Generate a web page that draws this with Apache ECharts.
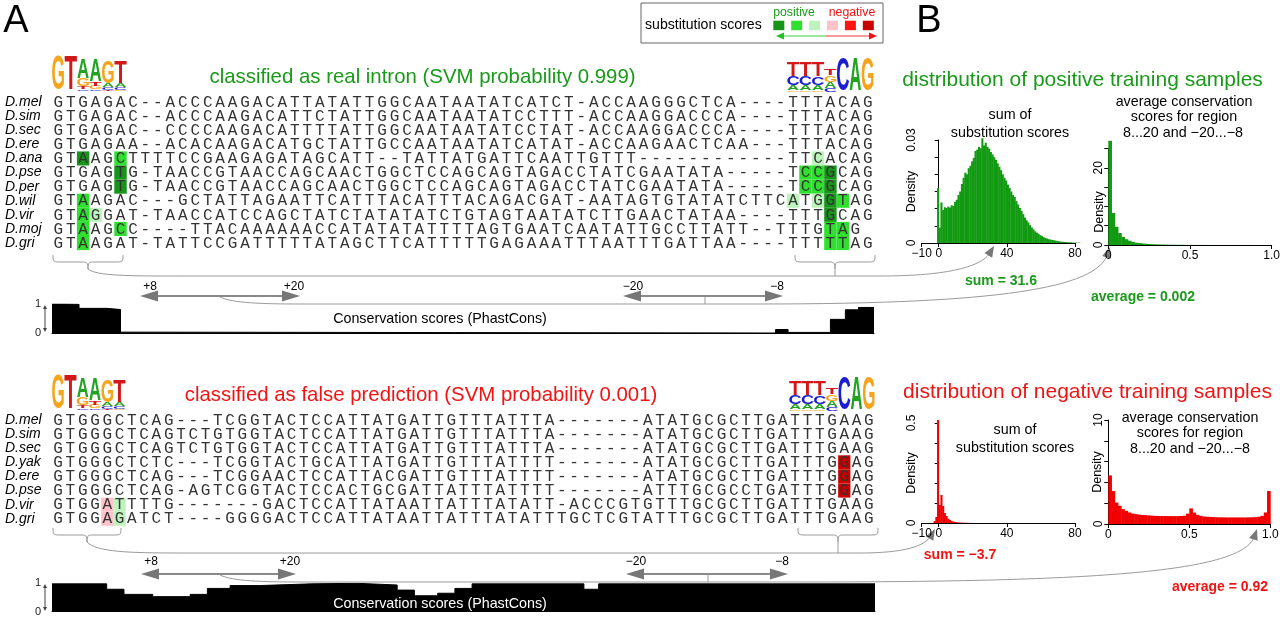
<!DOCTYPE html>
<html>
<head>
<meta charset="utf-8">
<script src="https://cdn.jsdelivr.net/npm/echarts@6/dist/echarts.min.js"></script>
<style>
  html, body { margin: 0; padding: 0; background: #fff; }
  #main { width: 1280px; height: 620px; }
</style>
</head>
<body>
<div id="main"></div>
<script>
// ---- alignment data ----
const posSpecies = ['D.mel', 'D.sim', 'D.sec', 'D.ere', 'D.ana', 'D.pse', 'D.per', 'D.wil', 'D.vir', 'D.moj', 'D.gri'];
const posSeqs = [
  'GTGAGAC--ACCCAAGACATTATATTGGCAATAATATCATCT-ACCAAGGGCTCA----TTTACAG',
  'GTGAGAC--ACCCAAGACATTCTATTGGCAATAATATCCTTT-ACCAAGGACCCA----TTTACAG',
  'GTGAGAC--CCCCAAGACATTTTATTGGCAATAATATCCTAT-ACCAAGGACCCA----TTTACAG',
  'GTGAGAA--ACACAAGACATGCTATTGCCAATAATATCATAT-ACCAAGAACTCAA---TTTACAG',
  'GTAAGCTTTTCCGAAGAGATAGCATT--TATTATGATTCAATTGTTT------------TTCACAG',
  'GTGAGTG-TAACCGTAACCAGCAACTGGCTCCAGCAGTAGACCTATCGAATATA-----TCCGCAG',
  'GTGAGTG-TAACCGTAACCAGCAACTGGCTCCAGCAGTAGACCTATCGAATATA-----TCCGCAG',
  'GTAAGAC---GCTATTAGAATTCATTTACATTTACAGACGAT-AATAGTGTATATCTTCATGGTAG',
  'GTAGGAT-TAACCATCCAGCTATCTATATATCTGTAGTAATATCTTGAACTATAA----TTTGCAG',
  'GTAAGCC----TTACAAAAAACCATATATATTTTAGTGAATCAATATTGCCTTATT--TTTGTAG',
  'GTAAGAT-TATTCCGATTTTTATAGCTTCATTTTTGAGAAATTTAATTTGATTAA----TTTTTAG'
];
// [row, column, substitution score]
const posMarks = [
  [4, 2, 3], [4, 5, 2], [5, 5, 3], [6, 5, 3], [7, 2, 2], [8, 2, 2], [8, 3, 1], [9, 2, 2], [9, 5, 2], [10, 2, 2],
  [4, 61, 1], [5, 60, 2], [5, 61, 2], [5, 62, 3], [6, 60, 2], [6, 61, 2], [6, 62, 3],
  [7, 59, 1], [7, 61, 1], [7, 62, 3], [7, 63, 2], [8, 62, 3], [9, 62, 2], [9, 63, 2], [10, 62, 2], [10, 63, 2]
];

const negSpecies = ['D.mel', 'D.sim', 'D.sec', 'D.yak', 'D.ere', 'D.pse', 'D.vir', 'D.gri'];
const negSeqs = [
  'GTGGGCTCAG---TCGGTACTCCATTATGATTGTTTATTTA-------ATATGCGCTTGATTTGAAG',
  'GTGGGCTCAGTCTGTGGTACTCCATTATGATTGTTTATTTA-------ATATGCGCTTGATTTGAAG',
  'GTGGGCTCAGTCTGTGGTACTCCATTATGATTGTTTATTTA-------ATATGCGCTTGATTTGAAG',
  'GTGGGCTCTC---TCGGTACTGCATTATGATTGTTTATTTT-------ATATGCGCTTGATTTGGAG',
  'GTGGGCTCAG---TCGGAACTCCATTACGATTGTTTATTTT-------ATATGCGCTTGATTTGGAG',
  'GTGGGCTCAG-AGTCGGTACTCCACTGCGATTATTTATTTT-------ATTTGCGCCTGATTTGGAG',
  'GTGGATTTTG-------GACTCCATTATAATTATTTATATT-ACCCGTGTTTGCGCTTGATTTGAAG',
  'GTGGAGATCT----GGGGACTCCATTATAATTATTTATATTTGCTCGTATTTGCGCTTGATTTGAAG'
];
const negMarks = [[3, 64, -3], [4, 64, -3], [5, 64, -3], [6, 4, -1], [6, 5, 1], [7, 4, -1], [7, 5, 1]];

// ---- conservation (PhastCons) step tracks: [alignment column, score] ----
const posCons = [[0, 1.0], [1.05, 0.99], [2.17, 0.85], [4.4, 0.81], [5.5, 0.03], [6.55, 0], [58.1, 0.12],
  [59.1, 0.02], [62.5, 0.47], [63.7, 0.8], [64.75, 0.88], [66, 0.88]];
const negCons = [[0, 0.98], [4.45, 0.79], [5.86, 0.61], [8.2, 0.53], [11.25, 0.61], [12.65, 0.82], [14.5, 0.92],
  [16.9, 0.98], [21.1, 1.0], [24.8, 0.94], [28.1, 0.76], [29.5, 0.56], [31.4, 0.65], [32.8, 0.82], [34.2, 0.98],
  [43.3, 0.79], [44.5, 0.98], [67, 0.98]];

// ---- histograms ----
const sumBinLeft = -3, sumBinWidth = 1;
const posSumDensity = [0, 0, 0.0160, 0.0045, 0.0118, 0.0096, 0.0104, 0.0102, 0.0106, 0.0103, 0.0110, 0.0108,
  0.0120, 0.0126, 0.0140, 0.0150, 0.0172, 0.0190, 0.0205, 0.0200, 0.0218, 0.0225, 0.0238, 0.0248, 0.0268, 0.0272,
  0.0280, 0.0276, 0.0305, 0.0284, 0.0292, 0.0280, 0.0275, 0.0265, 0.0258, 0.0250, 0.0242, 0.0232, 0.0222, 0.0212,
  0.0200, 0.0190, 0.0182, 0.0170, 0.0160, 0.0150, 0.0140, 0.0134, 0.0122, 0.0112, 0.0102, 0.0094, 0.0084, 0.0074,
  0.0066, 0.0060, 0.0052, 0.0045, 0.0040, 0.0034, 0.0030, 0.0027, 0.0023, 0.0020, 0.0017, 0.0015, 0.0013, 0.0011,
  0.0010, 0.0009, 0.0008, 0.0007, 0.0006, 0.0005, 0.0004, 0.0004, 0.0003, 0.0003, 0.0002, 0.0002, 0.0002, 0.0001,
  0.0001, 0.0001, 0.0001, 0.0001];
const negSumDensity = [0.01, 0.03, 0.515, 0.09, 0.14, 0.085, 0.05, 0.035, 0.022, 0.015, 0.01, 0.007, 0.005,
  0.004, 0.003, 0.002, 0.0015, 0.001, 0.001, 0.0008, 0.0005, 0.0004, 0.0003, 0.0002];
const avgBinLeft = 0, avgBinWidth = 0.02;
const posAvgDensity = [27, 8.3, 4.7, 3.1, 2.1, 1.5, 1.1, 0.8, 0.6, 0.5,
  0.4, 0.32, 0.26, 0.2, 0.17, 0.14, 0.12, 0.1, 0.08, 0.07,
  0.06, 0.05, 0.04, 0.04, 0.03, 0.03, 0.02, 0.02, 0.02, 0.01,
  0.01, 0.01, 0.01, 0.01, 0.01, 0.01, 0.01, 0.01, 0.01, 0.01,
  0.01, 0.01, 0.01, 0.01, 0, 0, 0, 0, 0, 0];
const negAvgDensity = [4.67, 3.17, 2.06, 1.75, 1.43, 1.27, 1.11, 1.0, 0.95, 0.9,
  0.87, 0.85, 0.83, 0.8, 0.78, 0.77, 0.77, 0.76, 0.76, 0.76,
  0.76, 0.76, 0.77, 0.8, 1.0, 1.5, 1.1, 0.88, 0.78, 0.72,
  0.7, 0.68, 0.66, 0.65, 0.64, 0.64, 0.63, 0.63, 0.63, 0.63,
  0.63, 0.63, 0.63, 0.64, 0.64, 0.66, 0.7, 0.79, 1.11, 3.17];

// sequence logos: each column is a stack [letter, bits] from top to bottom
const logoDonor = [
  [['G', 2.0]], [['T', 2.0]],
  [['A', 1.1], ['G', 0.45], ['T', 0.15], ['C', 0.1]],
  [['A', 1.25], ['T', 0.2], ['G', 0.2], ['C', 0.1]],
  [['G', 1.25], ['A', 0.2], ['C', 0.12], ['T', 0.08]],
  [['T', 1.3], ['A', 0.2], ['C', 0.15], ['G', 0.05]]
];
const logoAcceptor = [
  [['T', 0.85], ['C', 0.5], ['A', 0.3], ['G', 0.1]],
  [['T', 0.85], ['C', 0.5], ['A', 0.3], ['G', 0.1]],
  [['T', 0.85], ['C', 0.45], ['A', 0.3], ['G', 0.1]],
  [['T', 0.35], ['G', 0.4], ['A', 0.35], ['C', 0.2]],
  [['C', 1.9]], [['A', 1.9]], [['G', 1.9]]
];

const scoreLevels = [3, 2, 1, -1, -2, -3];
const scoreColors = { '3': '#17951b', '2': '#2fe02f', '1': '#bdf3bd', '-1': '#ffc2ca', '-2': '#ff1414', '-3': '#c80000' };
const logoColors = { A: '#22a422', C: '#1c1cd0', G: '#f5a41c', T: '#d21818' };
const GREEN = '#1a9a1a', RED = '#f01414', GRAY = '#9a9a9a', ARROW = '#777';
const FONT = 'Liberation Sans';

// geometry of the two alignment blocks (shared with logos / braces)
const posColW = 822 / 66, negColW = 823 / 67;

function alignCells(seqs, marks) {
  const cells = [];
  seqs.forEach((s, r) => {
    for (let c = 0; c < s.length; c++) {
      const m = marks.find(d => d[0] === r && d[1] === c);
      cells.push([c, r, m ? m[2] : 0, s[c]]);
    }
  });
  return cells;
}

function alignSeries(seqs, marks, idx) {
  const cells = alignCells(seqs, marks);
  return {
    type: 'custom', xAxisIndex: idx, yAxisIndex: idx,
    data: cells.map(d => [d[0], d[1], d[2]]),
    renderItem: function (params, api) {
      const cell = cells[params.dataIndex];
      const p = api.coord([cell[0], cell[1]]);
      const sz = api.size([1, 1]);
      const kids = [];
      if (cell[2]) {
        kids.push({ type: 'rect', shape: { x: p[0] - sz[0] / 2, y: p[1] - sz[1] / 2, width: sz[0], height: sz[1] },
          style: { fill: scoreColors[String(cell[2])] } });
      }
      kids.push({ type: 'text', style: { text: cell[3], x: p[0], y: p[1] + 0.5, align: 'center', verticalAlign: 'middle',
        fontFamily: 'Liberation Mono', fontSize: 16, fill: '#333' } });
      return { type: 'group', children: kids };
    }
  };
}

function histSeries(left, width, values, idx, color) {
  return {
    type: 'custom', xAxisIndex: idx, yAxisIndex: idx, clip: false,
    data: values.map((v, i) => [left + i * width, left + (i + 1) * width, v]),
    renderItem: function (params, api) {
      const a = api.coord([api.value(0), api.value(2)]);
      const b = api.coord([api.value(1), 0]);
      return { type: 'rect', shape: { x: a[0], y: a[1], width: b[0] - a[0] + 0.4, height: b[1] - a[1] },
        style: { fill: color } };
    }
  };
}

function consSeries(data, idx) {
  return {
    type: 'line', xAxisIndex: idx, yAxisIndex: idx, step: 'end', data: data, showSymbol: false, z: 2,
    lineStyle: { color: '#000', width: 1 }, areaStyle: { color: '#000', opacity: 1 }, silent: true
  };
}

// ---- decoration helpers ----
function txt(x, y, s, o, z) {
  const el = { type: 'text', x: x, y: y, style: Object.assign({ text: s, align: 'center', verticalAlign: 'middle',
    fill: '#000', fontSize: 14, fontFamily: FONT }, o || {}) };
  if (z) el.z = z;
  return el;
}
function line(x1, y1, x2, y2, color, w) {
  return { type: 'line', shape: { x1: x1, y1: y1, x2: x2, y2: y2 }, style: { stroke: color || GRAY, lineWidth: w || 1 } };
}
function head(x, y, ang, len, half, color) {
  const bx = x - Math.cos(ang) * len, by = y - Math.sin(ang) * len;
  const px = -Math.sin(ang) * half, py = Math.cos(ang) * half;
  return { type: 'polygon', shape: { points: [[x, y], [bx + px, by + py], [bx - px, by - py]] }, style: { fill: color || ARROW } };
}
function bez(x1, y1, c1x, c1y, c2x, c2y, x2, y2) {
  return { type: 'bezierCurve', shape: { x1: x1, y1: y1, cpx1: c1x, cpy1: c1y, cpx2: c2x, cpy2: c2y, x2: x2, y2: y2 },
    style: { stroke: GRAY, lineWidth: 1, fill: null } };
}
function curveArrow(x1, y1, c1x, c1y, c2x, c2y, x2, y2) {
  const ang = Math.atan2(y2 - c2y, x2 - c2x);
  return [bez(x1, y1, c1x, c1y, c2x, c2y, x2 - Math.cos(ang) * 8, y2 - Math.sin(ang) * 8), head(x2, y2, ang, 11, 4.5)];
}
function dblArrow(x1, x2, y, l1, l2, ly) {
  return [line(x1 + 14, y, x2 - 14, y, '#8a8a8a', 2), head(x1, y, Math.PI, 18, 5.5), head(x2, y, 0, 18, 5.5),
    txt((x1 + 10), ly, l1, { fontSize: 12 }), txt(x2 - 6, ly, l2, { fontSize: 12 })];
}
function brace(x1, x2, yTop) {
  const xc = (x1 + x2) / 2, ym = yTop + 7, tip = yTop + 14;
  return [
    bez(x1, yTop, x1, ym, x1, ym, x1 + 9, ym), line(x1 + 9, ym, xc - 7, ym),
    bez(xc - 7, ym, xc - 1, ym, xc, ym, xc, tip),
    bez(x2, yTop, x2, ym, x2, ym, x2 - 9, ym), line(x2 - 9, ym, xc + 7, ym),
    bez(xc + 7, ym, xc + 1, ym, xc, ym, xc, tip)
  ];
}
const inkW = { A: 14.2, C: 13.0, G: 13.8, T: 11.6 };
function logo(stacks, firstCol, colW, baseY, fullH) {
  const out = [];
  stacks.forEach((stack, i) => {
    const cx = 52 + colW * (firstCol + i + 0.5);
    let y = baseY;
    for (let k = stack.length - 1; k >= 0; k--) {
      const L = stack[k][0], h = stack[k][1] / 2 * fullH;
      const sy = h / 14.3, sx = colW * 0.96 / inkW[L];
      out.push({ type: 'text', x: cx, y: y - h / 2 + 0.96 * sy, scaleX: sx, scaleY: sy,
        style: { text: L, align: 'center', verticalAlign: 'middle', fontFamily: FONT, fontWeight: 'bold', fontSize: 20,
          fill: logoColors[L] } });
      y -= h;
    }
  });
  return out;
}
function vArrow(x, y1, y2) {
  return [line(x, y1 + 3, x, y2 - 3, '#444', 1), head(x, y1, -Math.PI / 2, 4, 2, '#444'), head(x, y2, Math.PI / 2, 4, 2, '#444')];
}

// ---- axes ----
function hiddenX(idx, max) {
  return { gridIndex: idx, type: 'value', min: -0.5, max: max, show: false };
}
function speciesY(idx, names) {
  return { gridIndex: idx, type: 'category', data: names, inverse: true,
    axisLine: { show: false }, axisTick: { show: false }, splitLine: { show: false },
    axisLabel: { interval: 0, align: 'left', margin: 47, fontStyle: 'italic', fontSize: 14, color: '#000', fontFamily: FONT } };
}
function consX(idx, max) {
  return { gridIndex: idx, type: 'value', min: 0, max: max,
    axisLine: { show: true, lineStyle: { color: '#000', width: 1 } }, axisTick: { show: false },
    axisLabel: { show: false }, splitLine: { show: false } };
}
function consY(idx) {
  return { gridIndex: idx, type: 'value', min: 0, max: 1, interval: 1,
    axisLine: { show: false }, axisTick: { show: false }, splitLine: { show: false },
    axisLabel: { fontSize: 11, color: '#222', margin: 11, fontFamily: FONT } };
}
const axisBlack = { show: true, lineStyle: { color: '#000', width: 1 } };
function fmtNum(v) { return v < 0 ? '\u2212' + (-v) : (v === 1 ? '1.0' : String(v)); }
function histX(idx, min, max, ticks) {
  return { gridIndex: idx, type: 'value', min: min, max: max,
    axisLine: axisBlack, splitLine: { show: false },
    axisTick: { show: true, length: 4, lineStyle: { color: '#000' }, customValues: ticks },
    axisLabel: { customValues: ticks, formatter: fmtNum, fontSize: 12, color: '#000', margin: 5, fontFamily: FONT } };
}
function histY(idx, max, interval, labels, withName) {
  const ax = { gridIndex: idx, type: 'value', min: 0, max: max, interval: interval,
    axisLine: axisBlack, splitLine: { show: false },
    axisTick: { show: true, length: 4, lineStyle: { color: '#000' } },
    axisLabel: { customValues: labels, rotate: 90, fontSize: 12, color: '#000', margin: 4, fontFamily: FONT } };
  if (withName) {
    Object.assign(ax, { name: 'Density', nameLocation: 'middle', nameRotate: 90, nameGap: 4, nameMoveOverlap: false,
      nameTextStyle: { fontSize: 12.5, color: '#000', fontFamily: FONT } });
  }
  return ax;
}

const gridBase = { containLabel: false, outerBoundsMode: 'none' };
const grids = [
  { left: 52, width: 822, top: 95, height: 155.1 },
  { left: 52, width: 823, top: 413, height: 112.8 },
  { left: 52, width: 822, top: 304, height: 29 },
  { left: 52, width: 823, top: 583.3, height: 28.4 },
  { left: 921.7, width: 153.3, top: 140, height: 103 },
  { left: 1108.3, width: 163.4, top: 148.5, height: 96.5 },
  { left: 921.7, width: 153.3, top: 423, height: 100 },
  { left: 1108.3, width: 162, top: 420, height: 104 }
].map(g => Object.assign({}, gridBase, g));

// ---- decorations ----
const deco = [];
deco.push(txt(16, 22, 'A', { fontSize: 38 }), txt(929, 22, 'B', { fontSize: 38 }));
// substitution score key
deco.push({ type: 'rect', shape: { x: 641, y: 3, width: 242, height: 40 }, style: { fill: '#fff', stroke: '#666', lineWidth: 1 } });
deco.push(txt(645, 25, 'substitution scores', { align: 'left', fontSize: 14.1 }));
scoreLevels.forEach((s, i) => {
  deco.push({ type: 'rect', shape: { x: 773.3 + i * 17.9, y: 20.7, width: 11, height: 9.5 }, style: { fill: scoreColors[String(s)] } });
});
deco.push(txt(794, 12.5, 'positive', { fontSize: 12.3, fill: GREEN }), txt(852, 12.5, 'negative', { fontSize: 12.3, fill: RED }));
deco.push(line(782, 36, 826, 36, '#7be07b', 1.5), head(776, 36, Math.PI, 8, 3.5, '#22c022'),
  line(826, 36, 870, 36, '#f27a7a', 1.5), head(877, 36, 0, 8, 3.5, '#ee1111'));

// panel A titles and logos
deco.push(txt(422.5, 77, 'classified as real intron (SVM probability 0.999)', { fontSize: 20.4, fill: GREEN }));
deco.push(txt(421, 395, 'classified as false prediction (SVM probability 0.001)', { fontSize: 20.4, fill: RED }));
deco.push.apply(deco, logo(logoDonor, 0, posColW, 91, 35));
deco.push.apply(deco, logo(logoAcceptor, 59, posColW, 92, 35));
deco.push.apply(deco, logo(logoDonor, 0, negColW, 410, 35));
deco.push.apply(deco, logo(logoAcceptor, 60, negColW, 411, 35));

// braces and connectors, top block
deco.push.apply(deco, brace(53, 123, 255));
deco.push.apply(deco, brace(795, 875, 255));
deco.push(line(835, 269, 835, 276));
deco.push(bez(88, 269, 96, 276, 130, 276, 180, 276), line(180, 276, 880, 276));
deco.push.apply(deco, curveArrow(880, 276, 950, 276, 982, 266, 994, 246));
deco.push(bez(220, 297, 232, 303, 262, 304, 300, 304), line(300, 304, 760, 304), line(705, 296, 705, 304));
deco.push.apply(deco, curveArrow(760, 304, 1000, 304, 1096, 288, 1110, 247));
deco.push.apply(deco, dblArrow(140, 300, 296, '+8', '+20', 287));
deco.push.apply(deco, dblArrow(623, 783, 296, '\u221220', '\u22128', 287));
deco.push(txt(440, 319, 'Conservation scores (PhastCons)', { fontSize: 14.3 }));
deco.push.apply(deco, vArrow(45, 305, 332));

// braces and connectors, bottom block
deco.push.apply(deco, brace(53, 121, 528));
deco.push.apply(deco, brace(798, 878, 528));
deco.push(line(838, 542, 838, 553));
deco.push(bez(87, 542, 96, 552, 130, 553, 180, 553), line(180, 553, 860, 553));
deco.push.apply(deco, curveArrow(860, 553, 905, 553, 925, 546, 935, 529));
deco.push(bez(220, 575, 232, 581, 262, 582, 300, 582), line(300, 582, 800, 582), line(708, 574, 708, 582));
deco.push.apply(deco, curveArrow(800, 582, 1100, 582, 1242, 572, 1257, 529));
deco.push.apply(deco, dblArrow(141, 296, 574, '+8', '+20', 562));
deco.push.apply(deco, dblArrow(626, 788, 574, '\u221220', '\u22128', 562));
deco.push(txt(440, 604, 'Conservation scores (PhastCons)', { fontSize: 14.3, fill: '#fff' }, 100));
deco.push.apply(deco, vArrow(45, 584, 611));

// panel B texts
deco.push(txt(1082.5, 80, 'distribution of positive training samples', { fontSize: 21, fill: GREEN }));
deco.push(txt(1087.5, 392, 'distribution of negative training samples', { fontSize: 21, fill: RED }));
deco.push(txt(1010, 115, 'sum of', { fontSize: 14.3 }), txt(1010, 133, 'substitution scores', { fontSize: 14.3 }));
deco.push(txt(1184, 102, 'average conservation', { fontSize: 14.3 }), txt(1184, 117, 'scores for region', { fontSize: 14.3 }),
  txt(1183, 133, '8...20 and \u221220...\u22128', { fontSize: 14.3 }));
deco.push(txt(1015, 430, 'sum of', { fontSize: 14.3 }), txt(1015, 448, 'substitution scores', { fontSize: 14.3 }));
deco.push(txt(1190, 418, 'average conservation', { fontSize: 14.3 }), txt(1190, 433, 'scores for region', { fontSize: 14.3 }),
  txt(1190, 449, '8...20 and \u221220...\u22128', { fontSize: 14.3 }));
deco.push(txt(1001, 281, 'sum = 31.6', { fontSize: 14, fontWeight: 'bold', fill: GREEN }));
deco.push(txt(1143, 297, 'average = 0.002', { fontSize: 14, fontWeight: 'bold', fill: GREEN }));
deco.push(txt(960, 555, 'sum = \u22123.7', { fontSize: 14, fontWeight: 'bold', fill: RED }));
deco.push(txt(1220, 587, 'average = 0.92', { fontSize: 14, fontWeight: 'bold', fill: RED }));
// y title of the positive-average histogram sits below its "20" label
deco.push({ type: 'text', x: 1100, y: 212, rotation: Math.PI / 2,
  style: { text: 'Density', align: 'center', verticalAlign: 'middle', fontSize: 12.5, fontFamily: FONT, fill: '#000' } });

const option = {
  animation: false,
  backgroundColor: '#fff',
  textStyle: { fontFamily: FONT },
  grid: grids,
  xAxis: [
    hiddenX(0, 65.5), hiddenX(1, 66.5), consX(2, 66), consX(3, 67),
    histX(4, -10, 80, [-10, 0, 40, 80]), histX(5, 0, 1, [0, 0.5, 1]),
    histX(6, -10, 80, [-10, 0, 40, 80]), histX(7, 0, 1, [0, 0.5, 1])
  ],
  yAxis: [
    speciesY(0, posSpecies), speciesY(1, negSpecies), consY(2), consY(3),
    histY(4, 0.03, 0.005, [0, 0.03], true), histY(5, 25, 5, [0, 20], false),
    histY(6, 0.5, 0.1, [0, 0.5], true), histY(7, 10, 2, [0, 10], true)
  ],
  series: [
    alignSeries(posSeqs, posMarks, 0),
    alignSeries(negSeqs, negMarks, 1),
    consSeries(posCons, 2),
    consSeries(negCons, 3),
    histSeries(sumBinLeft, sumBinWidth, posSumDensity, 4, '#139a13'),
    histSeries(avgBinLeft, avgBinWidth, posAvgDensity, 5, '#139a13'),
    histSeries(sumBinLeft, sumBinWidth, negSumDensity, 6, '#f00000'),
    histSeries(avgBinLeft, avgBinWidth, negAvgDensity, 7, '#f00000')
  ],
  graphic: { elements: deco }
};

const chart = echarts.init(document.getElementById('main'));
chart.setOption(option);
</script>
</body>
</html>
